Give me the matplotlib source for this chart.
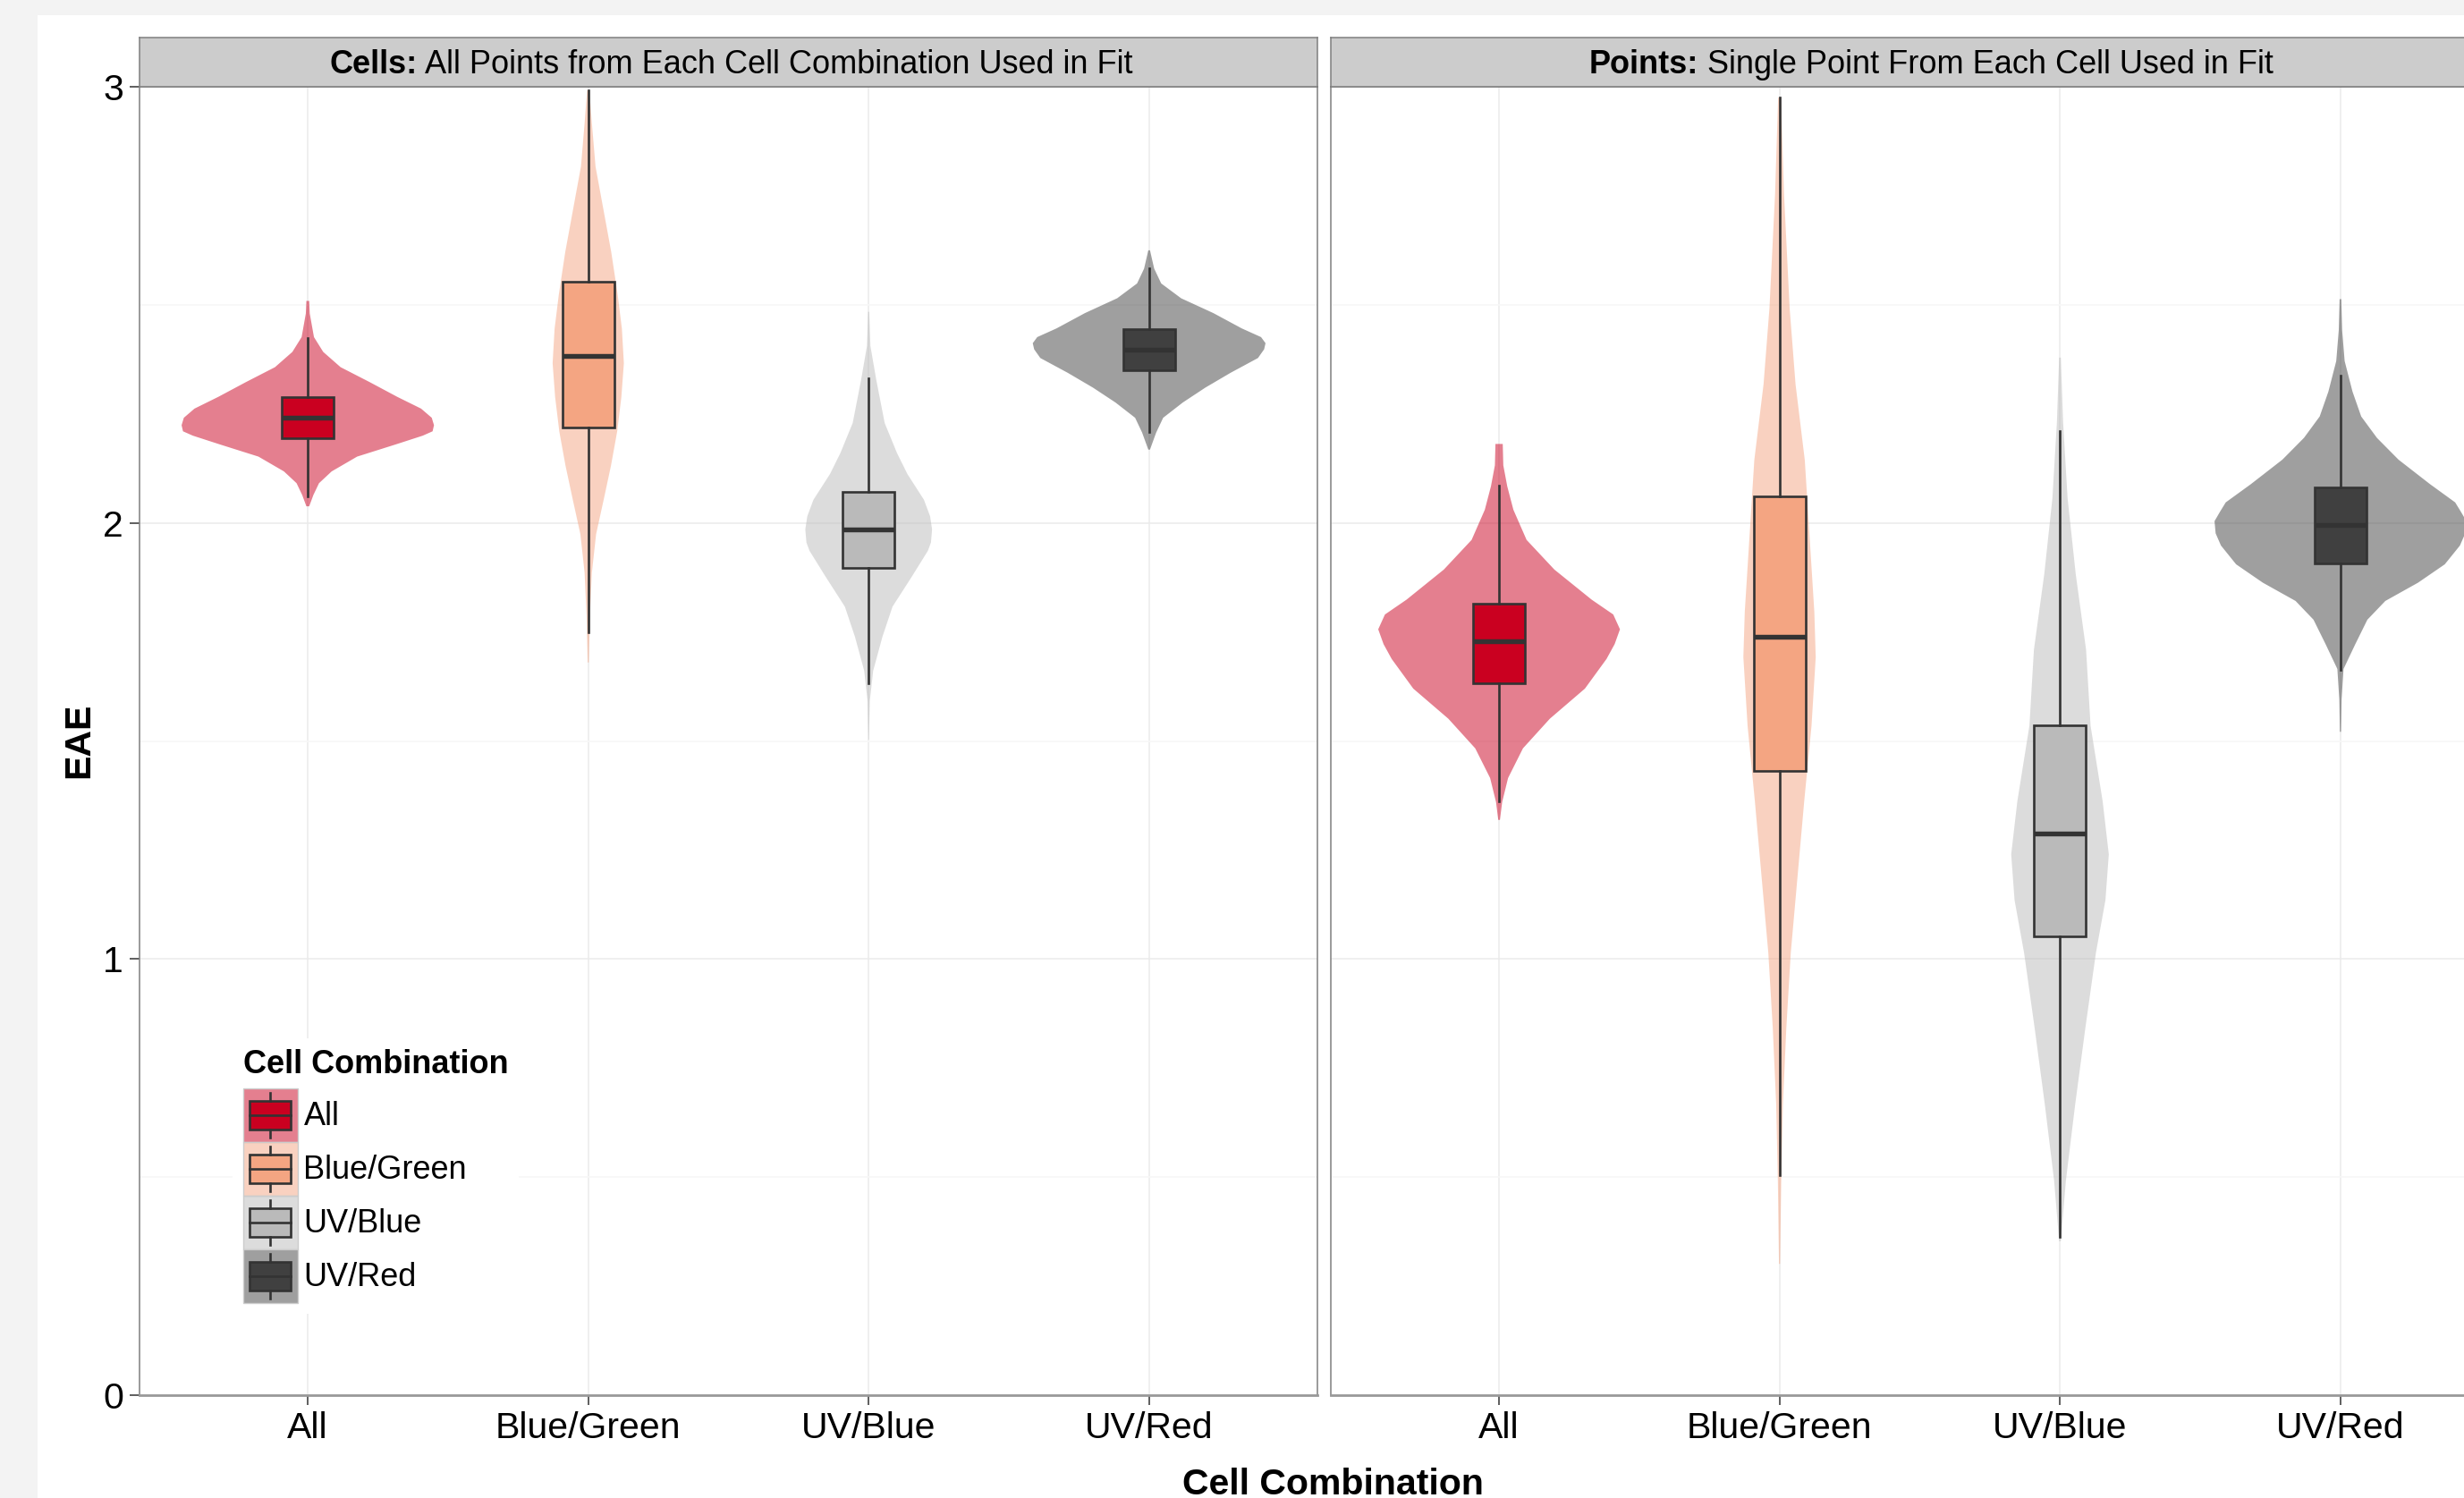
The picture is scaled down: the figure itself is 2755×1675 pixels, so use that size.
import matplotlib
matplotlib.use('Agg')
import matplotlib.pyplot as plt
from matplotlib.patches import Rectangle, Patch
from matplotlib.lines import Line2D
from matplotlib.legend_handler import HandlerBase

plt.rcParams['font.family'] = ['Liberation Sans', 'DejaVu Sans']

groups = ['All', 'Blue/Green', 'UV/Blue', 'UV/Red']
box_colors = ['#CA0020', '#F4A582', '#BABABA', '#404040']

# violin outlines: EAE value / half width (in category units)
cells_all_y = [2.509, 2.48, 2.426, 2.392, 2.357, 2.323, 2.289, 2.262, 2.241, 2.224, 2.210, 2.200, 2.180, 2.152, 2.118, 2.091, 2.064, 2.038]
cells_all_w = [0.005, 0.007, 0.022, 0.055, 0.117, 0.22, 0.319, 0.404, 0.442, 0.45, 0.445, 0.41, 0.314, 0.176, 0.085, 0.04, 0.02, 0.005]
cells_bg_y = [2.992, 2.916, 2.817, 2.719, 2.621, 2.523, 2.445, 2.366, 2.288, 2.209, 2.131, 2.053, 1.974, 1.886, 1.788, 1.680]
cells_bg_w = [0.004, 0.013, 0.026, 0.054, 0.082, 0.105, 0.12, 0.127, 0.118, 0.103, 0.081, 0.055, 0.028, 0.013, 0.006, 0.002]
cells_uvb_y = [2.484, 2.406, 2.328, 2.229, 2.160, 2.112, 2.053, 2.015, 1.985, 1.955, 1.936, 1.877, 1.808, 1.739, 1.661, 1.592, 1.503]
cells_uvb_w = [0.002, 0.006, 0.027, 0.057, 0.101, 0.138, 0.197, 0.219, 0.226, 0.222, 0.211, 0.154, 0.085, 0.049, 0.016, 0.004, 0.001]
cells_uvr_y = [2.625, 2.583, 2.549, 2.515, 2.481, 2.446, 2.426, 2.412, 2.398, 2.378, 2.344, 2.310, 2.276, 2.241, 2.207, 2.168]
cells_uvr_w = [0.003, 0.018, 0.043, 0.114, 0.229, 0.33, 0.399, 0.415, 0.41, 0.388, 0.29, 0.2, 0.12, 0.05, 0.025, 0.003]

points_all_y = [2.181, 2.132, 2.084, 2.030, 1.961, 1.893, 1.824, 1.790, 1.756, 1.722, 1.688, 1.620, 1.551, 1.483, 1.415, 1.360, 1.319]
points_all_w = [0.013, 0.015, 0.029, 0.051, 0.098, 0.197, 0.33, 0.407, 0.431, 0.412, 0.383, 0.306, 0.181, 0.085, 0.032, 0.011, 0.003]
points_bg_y = [2.975, 2.753, 2.492, 2.318, 2.144, 1.970, 1.796, 1.692, 1.535, 1.362, 1.188, 1.014, 0.840, 0.666, 0.492, 0.301]
points_bg_w = [0.005, 0.016, 0.036, 0.057, 0.09, 0.107, 0.124, 0.129, 0.114, 0.088, 0.064, 0.040, 0.024, 0.012, 0.006, 0.002]
points_uvb_y = [2.379, 2.231, 2.057, 1.883, 1.709, 1.535, 1.362, 1.240, 1.135, 1.014, 0.840, 0.666, 0.492, 0.353]
points_uvb_w = [0.003, 0.011, 0.027, 0.056, 0.093, 0.109, 0.152, 0.174, 0.162, 0.128, 0.090, 0.054, 0.021, 0.003]
points_uvr_y = [2.513, 2.442, 2.371, 2.301, 2.244, 2.195, 2.145, 2.089, 2.047, 2.025, 2.004, 1.976, 1.948, 1.905, 1.863, 1.821, 1.778, 1.722, 1.665, 1.595, 1.521]
points_uvr_w = [0.003, 0.006, 0.015, 0.043, 0.074, 0.130, 0.207, 0.319, 0.409, 0.43, 0.449, 0.445, 0.426, 0.372, 0.277, 0.160, 0.096, 0.053, 0.011, 0.004, 0.002]

# box stats
cells_lo = [2.060, 1.750, 1.633, 2.209]
cells_q1 = [2.195, 2.219, 1.896, 2.349]
cells_med = [2.241, 2.383, 1.985, 2.398]
cells_q3 = [2.289, 2.553, 2.072, 2.445]
cells_hi = [2.424, 2.992, 2.332, 2.584]

points_lo = [1.362, 0.504, 0.362, 1.662]
points_q1 = [1.632, 1.431, 1.052, 1.908]
points_med = [1.729, 1.739, 1.288, 1.996]
points_q3 = [1.814, 2.061, 1.535, 2.082]
points_hi = [2.086, 2.975, 2.210, 2.338]

W, H = 2755, 1675
fig = plt.figure(figsize=(W / 100, H / 100), dpi=100)
fig.patch.set_facecolor('#f3f3f3')
fig.add_artist(Rectangle((42 / W, 0), 1, (H - 17) / H, transform=fig.transFigure,
                         facecolor='white', edgecolor='none', zorder=-5))

TOP, BOT = 97, 1560
pos = [1, 2, 3, 4]


def draw_panel(x0, x1, profiles, lo, q1, med, q3, hi):
    ax = fig.add_axes([x0 / W, (H - BOT) / H, (x1 - x0) / W, (BOT - TOP) / H])
    vp = [dict(coords=ys, vals=ws, mean=m, median=m, min=a, max=b)
          for (ys, ws), m, a, b in zip(profiles, med, lo, hi)]
    parts = ax.violin(vp, positions=pos, widths=[2 * max(w) for _, w in profiles],
                      showextrema=False)
    for body, c in zip(parts['bodies'], box_colors):
        body.set_facecolor(c)
        body.set_alpha(0.5)
        body.set_edgecolor('none')
        body.set_zorder(2)
    stats = [dict(med=m, q1=a, q3=b, whislo=l, whishi=h, fliers=[])
             for m, a, b, l, h in zip(med, q1, q3, lo, hi)]
    bp = ax.bxp(stats, positions=pos, widths=0.185, patch_artist=True,
                showcaps=False, showfliers=False,
                boxprops=dict(edgecolor='#333333', linewidth=1.9),
                medianprops=dict(color='#333333', linewidth=3.9, solid_capstyle='butt'),
                whiskerprops=dict(color='#333333', linewidth=1.9),
                zorder=3)
    for box, c in zip(bp['boxes'], box_colors):
        box.set_facecolor(c)

    ax.set_xlim(0.4, 4.6)
    ax.set_ylim(0, 3)
    ax.set_xticks(pos, groups)
    ax.set_yticks([0, 1, 2, 3])
    ax.set_yticks([0.5, 1.5, 2.5], minor=True)
    ax.grid(which='major', color='#EBEBEB', lw=1.1)
    ax.grid(which='minor', axis='y', color='#F7F7F7', lw=1.1)
    ax.set_axisbelow(True)
    ax.tick_params(which='minor', length=0)
    ax.tick_params(which='major', length=8, width=1.1, color='#333333',
                   labelsize=29.5, labelcolor='black')
    ax.tick_params(axis='x', pad=5)
    ax.tick_params(axis='y', pad=5)
    for s in ax.spines.values():
        s.set_color('#7F7F7F')
        s.set_linewidth(1.1)
    ax.spines['bottom'].set_linewidth(2.0)
    ax.spines['bottom'].set_color('#999999')
    return ax


def strip(x0, x1, bold, rest, shift=0):
    sax = fig.add_axes([x0 / W, (H - TOP) / H, (x1 - x0) / W, 55 / H], facecolor='#CCCCCC')
    sax.set_xticks([])
    sax.set_yticks([])
    for s in sax.spines.values():
        s.set_color('#7F7F7F')
        s.set_linewidth(1.1)
    t1 = sax.text(0.5, 0.273, bold, fontweight='bold', fontsize=26,
                  ha='left', va='baseline', transform=sax.transAxes)
    t2 = sax.annotate(rest, xy=(1, 0), xycoords=t1, fontsize=26, ha='left', va='bottom')
    r = fig.canvas.get_renderer()
    w = t1.get_window_extent(r).width + t2.get_window_extent(r).width
    t1.set_x(0.5 + (shift - w / 2) / (x1 - x0))


ax1 = draw_panel(156, 1473,
                 [(cells_all_y, cells_all_w), (cells_bg_y, cells_bg_w),
                  (cells_uvb_y, cells_uvb_w), (cells_uvr_y, cells_uvr_w)],
                 cells_lo, cells_q1, cells_med, cells_q3, cells_hi)
ax2 = draw_panel(1488, 2805,
                 [(points_all_y, points_all_w), (points_bg_y, points_bg_w),
                  (points_uvb_y, points_uvb_w), (points_uvr_y, points_uvr_w)],
                 points_lo, points_q1, points_med, points_q3, points_hi)
ax2.tick_params(axis='y', left=False, labelleft=False)

strip(156, 1473, 'Cells:', ' All Points from Each Cell Combination Used in Fit', shift=3)
strip(1488, 2805, 'Points:', ' Single Point From Each Cell Used in Fit', shift=13)

fig.text(88 / W, (H - 828) / H, 'EAE', rotation=90, fontsize=29.5, fontweight='bold',
         ha='center', va='center')
fig.text(1490 / W, 4 / H, 'Cell Combination', fontsize=29.5, fontweight='bold',
         ha='center', va='baseline')


class BoxKey(HandlerBase):
    def create_artists(self, legend, orig_handle, xdescent, ydescent, width, height, fontsize, trans):
        r, g, b, _ = orig_handle.get_facecolor()
        x0, y0 = -xdescent, -ydescent
        bg = Rectangle((x0, y0), width, height, facecolor=(r, g, b, 0.5),
                       edgecolor='#CCCCCC', lw=1, transform=trans)
        box = Rectangle((x0 + 0.11 * width, y0 + 0.23 * height), 0.77 * width, 0.54 * height,
                        facecolor=(r, g, b), edgecolor='#333333', lw=1.9, transform=trans)
        xm = x0 + width / 2
        w1 = Line2D([xm, xm], [y0 + 0.09 * height, y0 + 0.23 * height], color='#333333', lw=1.9, transform=trans)
        w2 = Line2D([xm, xm], [y0 + 0.77 * height, y0 + 0.91 * height], color='#333333', lw=1.9, transform=trans)
        med = Line2D([x0 + 0.11 * width, x0 + 0.88 * width], [y0 + 0.5 * height] * 2,
                     color='#333333', lw=1.9, transform=trans)
        return [bg, box, w1, w2, med]


handles = [Patch(facecolor=c) for c in box_colors]
leg = ax1.legend(handles, groups, handler_map={Patch: BoxKey()},
                 title='Cell Combination', title_fontproperties={'weight': 'bold', 'size': 26},
                 fontsize=26, loc='upper left', bbox_to_anchor=(260 / W, (H - 1161) / H),
                 bbox_transform=fig.transFigure, alignment='left',
                 handlelength=1.68, handleheight=2.18, labelspacing=0, handletextpad=0.19,
                 borderpad=0.33, borderaxespad=0, frameon=True, fancybox=False,
                 facecolor='white', edgecolor='none', framealpha=1)
leg._legend_box.sep = 6.5
leg.set_zorder(5)

fig.savefig('out.png', dpi=100, facecolor=fig.get_facecolor())
